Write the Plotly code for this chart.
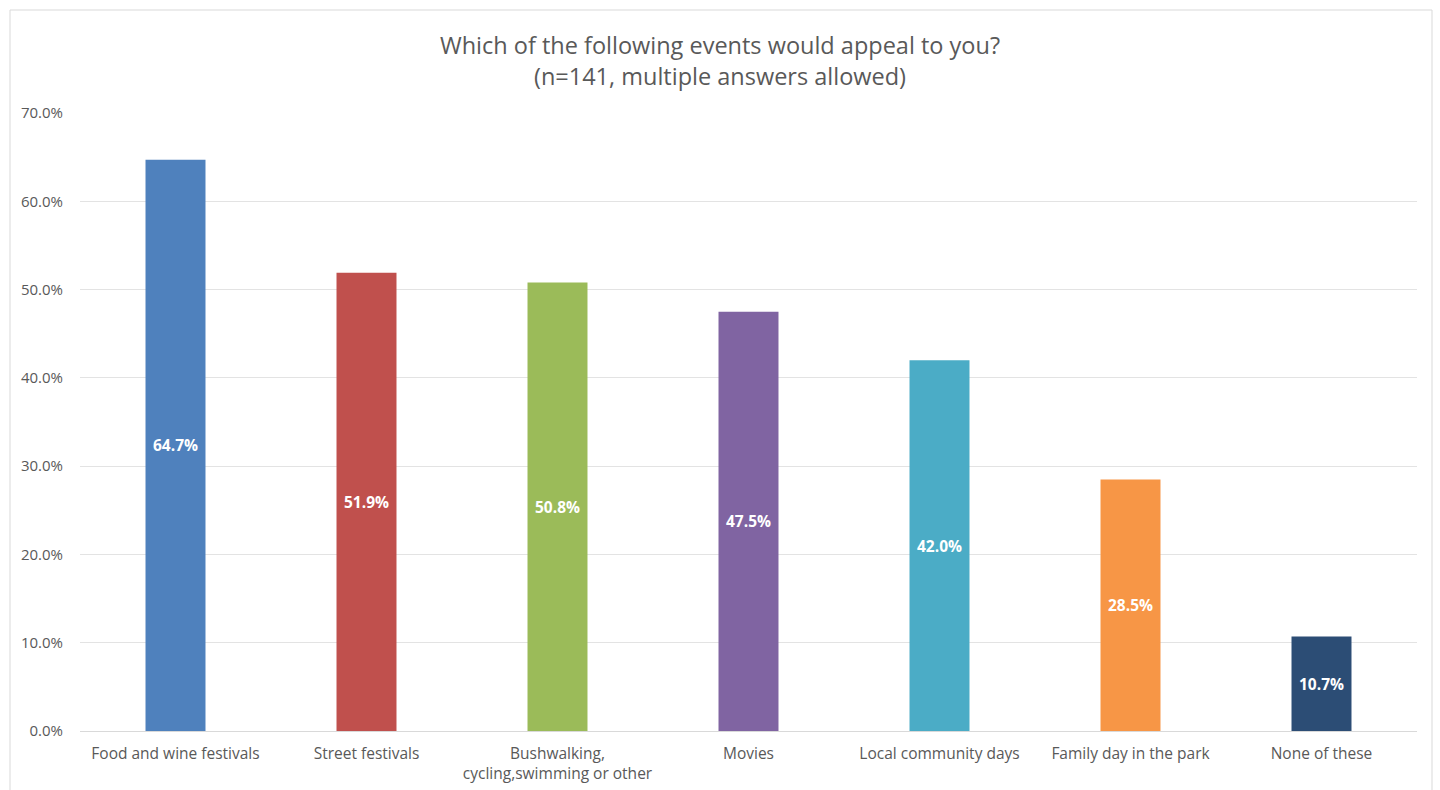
import plotly.graph_objects as go

categories = ["Food and wine festivals", "Street festivals", "Bushwalking,<br>cycling,swimming or other",
              "Movies", "Local community days", "Family day in the park", "None of these"]
values = [64.7, 51.9, 50.8, 47.5, 42.0, 28.5, 10.7]
colors = ["#4F81BD", "#C0504D", "#9BBB59", "#8064A2", "#4BACC6", "#F79646", "#2C4D75"]
y_ticks = [0, 10, 20, 30, 40, 50, 60, 70]
y_tick_labels = [f"{v:.1f}%" for v in y_ticks]

W, H = 1440, 790
L, R, T, B = 80, 23, 113, 59

fig = go.Figure(go.Bar(
    x=categories, y=values,
    marker=dict(color=colors, line=dict(width=0)),
    text=[f"{v:.1f}%" for v in values],
    textposition="inside", insidetextanchor="middle",
    textfont=dict(family="Open Sans", size=15.5, color="white", weight="bold"),
    textangle=0,
    cliponaxis=False,
))

pw = W - L - R
ph = H - T - B
fig.add_shape(type="rect", xref="paper", yref="paper",
              x0=(10 - L) / pw, x1=(1432 - L) / pw,
              y0=(H - B - 800) / ph, y1=(H - B - 10) / ph,
              line=dict(color="#D9D9D9", width=1), fillcolor="rgba(0,0,0,0)", layer="below")

fig.update_layout(
    width=W, height=H,
    margin=dict(l=L, r=R, t=T, b=B, autoexpand=False),
    paper_bgcolor="white", plot_bgcolor="white",
    bargap=0.686,
    showlegend=False,
    font=dict(family="Open Sans", color="#595959"),
    title=dict(text="Which of the following events would appeal to you?<br>(n=141, multiple answers allowed)",
               x=0.5, xanchor="center", y=1 - 54 / H, yanchor="middle",
               font=dict(size=23.5, color="#595959")),
    xaxis=dict(showgrid=False, showline=False, ticks="", tickfont=dict(size=15.5, color="#595959"),
               ticklabelstandoff=11, automargin=False),
    yaxis=dict(range=[0, 70], tickvals=y_ticks, ticktext=y_tick_labels,
               showgrid=True, gridcolor="#E3E3E3", gridwidth=1,
               zeroline=True, zerolinecolor="#D9D9D9", zerolinewidth=1,
               showline=False, ticks="", tickfont=dict(size=15, color="#595959"),
               ticklabelstandoff=16, automargin=False),
)

fig.write_html("out.html")
